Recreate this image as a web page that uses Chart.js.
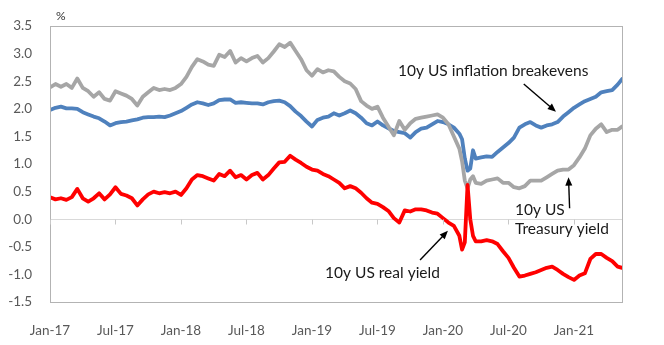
<!DOCTYPE html>
<html>
<head>
<meta charset="utf-8">
<script src="https://cdn.jsdelivr.net/npm/chart.js@4"></script>
<style>
  body { margin: 0; background: #fff; }
  #wrap { width: 664px; height: 345px; position: relative; }
</style>
</head>
<body>
<div id="wrap"><canvas id="myChart"></canvas></div>
<script>
// months since Jan 2017 (extra points around the March 2020 crash)
let months = [
  0, 0.5, 1, 1.5, 2, 2.5, 3, 3.5, 4, 4.5, 5, 5.5, 6, 6.5, 7, 7.5, 8, 8.5, 9, 9.5,
  10, 10.5, 11, 11.5, 12, 12.5, 13, 13.5, 14, 14.5, 15, 15.5, 16, 16.5, 17, 17.5, 18, 18.5, 19, 19.5,
  20, 20.5, 21, 21.5, 22, 22.5, 23, 23.5, 24, 24.5, 25, 25.5, 26, 26.5, 27, 27.5, 28, 28.5, 29, 29.5,
  30, 30.5, 31, 31.5, 32, 32.5, 33, 33.5, 34, 34.5, 35, 35.5, 36, 36.5, 37, 37.5, 37.75, 38, 38.25, 38.5, 38.75,
  39, 39.5, 40, 40.5, 41, 41.5, 42, 42.5, 43, 43.5, 44, 44.5, 45, 45.5, 46, 46.5, 47, 47.5, 48, 48.5, 49, 49.5,
  50, 50.5, 51, 51.5, 52, 52.4
];
let treasury = [
  2.39, 2.45, 2.40, 2.45, 2.38, 2.55, 2.38, 2.32, 2.22, 2.30, 2.18, 2.15, 2.32, 2.28, 2.24, 2.18, 2.06, 2.22, 2.30, 2.38,
  2.34, 2.36, 2.34, 2.38, 2.45, 2.58, 2.76, 2.90, 2.86, 2.80, 2.78, 2.98, 2.94, 3.05, 2.84, 2.92, 2.86, 2.92, 2.96, 2.84,
  2.92, 3.04, 3.17, 3.12, 3.20, 3.05, 2.90, 2.70, 2.60, 2.72, 2.66, 2.70, 2.68, 2.58, 2.50, 2.46, 2.36, 2.14, 2.06, 2.00,
  2.04, 1.84, 1.68, 1.52, 1.78, 1.62, 1.74, 1.82, 1.84, 1.86, 1.88, 1.90, 1.84, 1.72, 1.50, 1.28, 1.05, 0.70, 0.56, 0.72, 0.78,
  0.66, 0.64, 0.70, 0.72, 0.74, 0.66, 0.66, 0.58, 0.56, 0.60, 0.70, 0.70, 0.70, 0.76, 0.82, 0.88, 0.90, 0.90, 0.98, 1.12, 1.28, 1.52,
  1.64, 1.72, 1.58, 1.62, 1.62, 1.68
];
let breakevens = [
  1.98, 2.02, 2.04, 2.01, 2.01, 2.00, 1.94, 1.90, 1.86, 1.83, 1.77, 1.70, 1.74, 1.76, 1.77, 1.79, 1.81, 1.84, 1.85, 1.85,
  1.86, 1.85, 1.88, 1.92, 1.96, 2.02, 2.08, 2.12, 2.10, 2.07, 2.10, 2.16, 2.17, 2.17, 2.11, 2.12, 2.11, 2.10, 2.10, 2.08,
  2.12, 2.14, 2.15, 2.12, 2.05, 1.95, 1.87, 1.77, 1.68, 1.80, 1.84, 1.86, 1.92, 1.88, 1.92, 1.97, 1.92, 1.84, 1.74, 1.70,
  1.77, 1.70, 1.65, 1.60, 1.58, 1.56, 1.48, 1.58, 1.64, 1.66, 1.72, 1.78, 1.76, 1.72, 1.66, 1.55, 1.45, 1.10, 0.88, 0.92, 1.25,
  1.10, 1.12, 1.14, 1.13, 1.22, 1.30, 1.38, 1.48, 1.66, 1.72, 1.76, 1.70, 1.66, 1.70, 1.72, 1.76, 1.86, 1.94, 2.02, 2.08, 2.14, 2.18,
  2.22, 2.30, 2.32, 2.34, 2.44, 2.54
];
let realYield = [
  0.40, 0.36, 0.38, 0.35, 0.40, 0.55, 0.38, 0.32, 0.38, 0.47, 0.36, 0.45, 0.58, 0.46, 0.43, 0.38, 0.25, 0.36, 0.45, 0.50,
  0.47, 0.49, 0.47, 0.50, 0.44, 0.56, 0.72, 0.80, 0.78, 0.74, 0.70, 0.82, 0.78, 0.88, 0.76, 0.80, 0.72, 0.80, 0.84, 0.72,
  0.80, 0.92, 1.03, 1.04, 1.15, 1.08, 1.02, 0.95, 0.90, 0.88, 0.82, 0.78, 0.72, 0.66, 0.56, 0.60, 0.56, 0.48, 0.38, 0.30,
  0.28, 0.22, 0.15, 0.02, -0.06, 0.16, 0.14, 0.18, 0.18, 0.16, 0.12, 0.10, 0.02, -0.06, -0.12, -0.30, -0.55, -0.42, 0.62, 0.00, -0.30,
  -0.40, -0.40, -0.38, -0.40, -0.45, -0.58, -0.70, -0.88, -1.04, -1.02, -0.99, -0.96, -0.92, -0.88, -0.86, -0.92, -0.99, -1.05, -1.10, -1.02, -0.98, -0.72,
  -0.63, -0.63, -0.70, -0.76, -0.86, -0.88
];
let tickLabels = ["Jan-17", "Jul-17", "Jan-18", "Jul-18", "Jan-19", "Jul-19", "Jan-20", "Jul-20", "Jan-21"];

function pts(values) {
  return values.map((v, i) => ({ x: months[i], y: v }));
}

let font = "Lato, 'Open Sans', sans-serif";

// plot box, zero line ticks, % label and the arrow notes
let extras = {
  id: "extras",
  afterDraw(chart) {
    let c = chart.ctx;
    let a = chart.chartArea;
    let xs = chart.scales.x;
    let ys = chart.scales.y;
    c.save();
    c.strokeStyle = "#b3b3b3";
    c.lineWidth = 1;
    c.strokeRect(Math.round(a.left) + 0.5, Math.round(a.top) + 0.5, Math.round(a.right - a.left), Math.round(a.bottom - a.top));
    let zy = Math.round(ys.getPixelForValue(0)) + 0.5;
    c.strokeStyle = "#c8c8c8";
    tickLabels.forEach((t, i) => {
      let px = Math.round(xs.getPixelForValue(i * 6)) + 0.5;
      c.beginPath();
      c.moveTo(px, zy);
      c.lineTo(px, zy + 5);
      c.stroke();
    });
    c.fillStyle = "#333";
    c.font = "12px " + font;
    c.textAlign = "left";
    c.textBaseline = "middle";
    c.fillText("%", a.left + 6, a.top - 10);

    c.fillStyle = "#1a1a1a";
    c.font = "15.5px " + font;
    let P = (m, v) => [xs.getPixelForValue(m), ys.getPixelForValue(v)];
    let text = (s, m, v, align) => {
      let p = P(m, v);
      c.textAlign = align;
      c.fillText(s, p[0], p[1]);
    };
    let arrow = (m1, v1, m2, v2) => {
      let p1 = P(m1, v1), p2 = P(m2, v2);
      let ang = Math.atan2(p2[1] - p1[1], p2[0] - p1[0]);
      c.strokeStyle = "#000";
      c.fillStyle = "#000";
      c.lineWidth = 1.4;
      c.beginPath();
      c.moveTo(p1[0], p1[1]);
      c.lineTo(p2[0] - 6 * Math.cos(ang), p2[1] - 6 * Math.sin(ang));
      c.stroke();
      c.beginPath();
      c.moveTo(p2[0], p2[1]);
      c.lineTo(p2[0] - 9 * Math.cos(ang - 0.4), p2[1] - 9 * Math.sin(ang - 0.4));
      c.lineTo(p2[0] - 9 * Math.cos(ang + 0.4), p2[1] - 9 * Math.sin(ang + 0.4));
      c.closePath();
      c.fill();
      c.fillStyle = "#1a1a1a";
    };
    text("10y US inflation breakevens", 40.6, 2.68, "center");
    arrow(43.4, 2.45, 46.35, 1.95);
    text("10y US", 42.6, 0.17, "left");
    text("Treasury yield", 42.6, -0.17, "left");
    arrow(47.6, 0.20, 47.5, 0.76);
    text("10y US real yield", 25.2, -0.97, "left");
    arrow(33.9, -0.74, 36.45, -0.21);
    c.restore();
  },
};

var ctx = document.getElementById("myChart").getContext("2d");
var myChart = new Chart(ctx, {
  type: "line",
  data: {
    datasets: [
      { label: "10y US real yield", data: pts(realYield), borderColor: "#ff0000", order: 1 },
      { label: "10y US Treasury yield", data: pts(treasury), borderColor: "#a6a6a6", order: 2 },
      { label: "10y US inflation breakevens", data: pts(breakevens), borderColor: "#4f81bd", order: 3 },
    ],
  },
  options: {
    responsive: true,
    maintainAspectRatio: false,
    animation: false,
    layout: { padding: { left: 0, top: 21, right: 42, bottom: 0 } },
    elements: {
      point: { radius: 0 },
      line: { borderWidth: 3.8, tension: 0, borderJoinStyle: "round", borderCapStyle: "round" },
    },
    plugins: { legend: { display: false }, tooltip: { enabled: false } },
    scales: {
      x: {
        type: "linear",
        min: 0,
        max: 52.4,
        grid: { display: false },
        border: { display: false },
        afterBuildTicks: (s) => {
          s.ticks = tickLabels.map((t, i) => ({ value: i * 6 }));
        },
        afterFit: (s) => { s.height = 43; },
        ticks: {
          autoSkip: false,
          maxRotation: 0,
          padding: 13,
          color: "#595959",
          font: { family: font, size: 13.5 },
          callback: (v) => tickLabels[Math.round(v / 6)],
        },
      },
      y: {
        min: -1.5,
        max: 3.5,
        grid: {
          drawTicks: false,
          color: (c) => (c.tick && c.tick.value === 0 ? "#d9d9d9" : "rgba(0,0,0,0)"),
        },
        border: { display: false },
        afterFit: (s) => { s.width = 50; },
        ticks: {
          stepSize: 0.5,
          padding: 18,
          color: "#595959",
          font: { family: font, size: 13.5 },
          callback: (v) => v.toFixed(1),
        },
      },
    },
  },
  plugins: [extras],
});
</script>
</body>
</html>
